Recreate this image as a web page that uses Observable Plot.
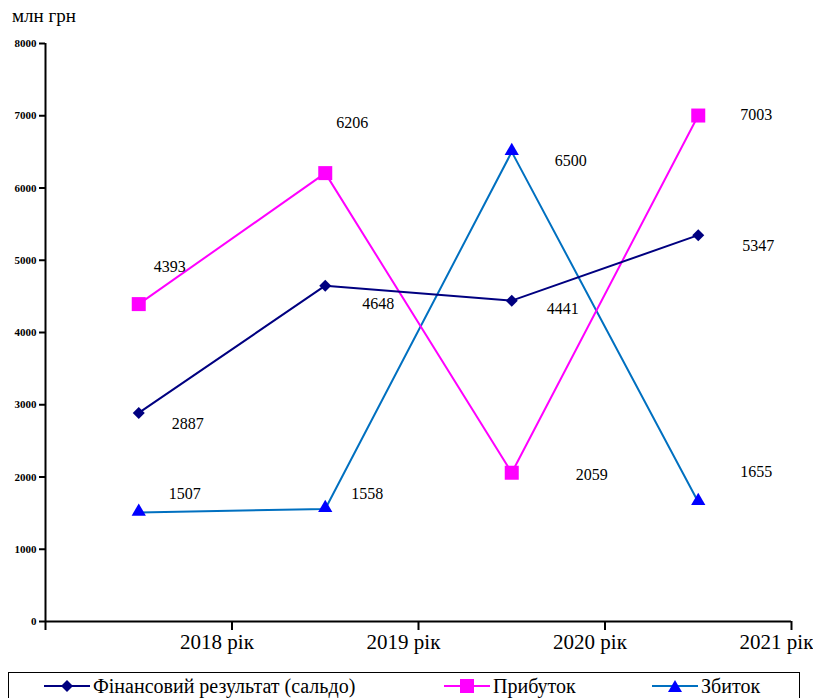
<!DOCTYPE html>
<html>
<head>
<meta charset="utf-8">
<script src="https://cdn.jsdelivr.net/npm/d3@7"></script>
<script src="https://cdn.jsdelivr.net/npm/@observablehq/plot@0.6"></script>
<style>
@font-face { font-family: "RefSerif"; src: local("Liberation Serif"), local("LiberationSerif"), local("Tinos"); }
</style>
</head>
<body style="margin:0">
<div style="position:relative;width:813px;height:698px">
  <div id="title" style="position:absolute;left:12px;top:5px;font-size:19px;color:#000;font-family:'Liberation Serif'">млн грн</div>
  <div id="c"></div>
  <div id="legend" style="position:absolute;left:8px;top:672px;width:792px;height:26px;border:1px solid #000;border-bottom:none;box-sizing:border-box;font-size:20px;font-family:'Liberation Serif'"></div>
</div>
<script>
// ---- data ----
const years = ["2018 рік", "2019 рік", "2020 рік", "2021 рік"];
const saldo = [2887, 4648, 4441, 5347];
const profit = [4393, 6206, 2059, 7003];
const loss = [1507, 1558, 6500, 1655];
const seriesNames = ["Фінансовий результат (сальдо)", "Прибуток", "Збиток"];
const yTicks = [0, 1000, 2000, 3000, 4000, 5000, 6000, 7000, 8000];

// ---- styling / layout (not data) ----
const FAM = "Liberation Serif";
const colors = {saldo: "#000080", profit: "#FF00FF", lossLine: "#0070C0", lossMarker: "#0000FF"};
const nudge = {
  saldo: [[49, 11], [53, 18], [51, 8], [60, 11]],
  profit: [[31, -37], [27, -50], [80, 2], [58, -1]],
  loss: [[46, -19], [42, -15], [59, 9], [58, -30]]
};

const mk = (vals) => vals.map((v, i) => ({i: i + 0.5, year: years[i], value: v}));
const dSaldo = mk(saldo), dProfit = mk(profit), dLoss = mk(loss);

function labels(data, offs) {
  return data.map((d, k) => Plot.text([d], {
    x: "i", y: "value", text: (d) => String(d.value),
    dx: offs[k][0], dy: offs[k][1], fontSize: 16, fill: "#000", fontFamily: FAM
  }));
}

const chart = Plot.plot({
  width: 813,
  height: 668,
  marginTop: 43,
  marginBottom: 47,
  marginLeft: 45,
  marginRight: 22,
  x: {type: "linear", domain: [0, years.length], axis: null, label: null},
  y: {domain: [0, 8000], axis: null, label: null},
  marks: [
    Plot.axisX(d3.range(0, years.length + 1), {tickSize: 9, tickFormat: () => "", stroke: "#000", strokeWidth: 2, label: null}),
    Plot.axisX(d3.range(1, years.length + 1), {
      tickSize: 0, tickPadding: 13, tickFormat: (d) => years[d - 1],
      fontSize: 21, dx: -15, fill: "#000", label: null, fontFamily: FAM
    }),
    Plot.axisY(yTicks, {
      tickSize: 6, tickPadding: 3, fontSize: 11, fontWeight: "bold", fontFamily: FAM,
      tickFormat: (d) => String(d), stroke: "#000", strokeWidth: 2, fill: "#000", label: null
    }),
    Plot.ruleY([0], {stroke: "#000", strokeWidth: 2}),
    Plot.ruleX([0], {stroke: "#000", strokeWidth: 2, y1: 0, y2: 8000}),
    Plot.line(dLoss, {x: "i", y: "value", stroke: colors.lossLine, strokeWidth: 2}),
    Plot.line(dProfit, {x: "i", y: "value", stroke: colors.profit, strokeWidth: 2}),
    Plot.line(dSaldo, {x: "i", y: "value", stroke: colors.saldo, strokeWidth: 2}),
    Plot.dot(dLoss, {x: "i", y: "value", symbol: "triangle", r: 5.3, fill: colors.lossMarker, stroke: "none", dy: -1}),
    Plot.dot(dProfit, {x: "i", y: "value", symbol: "square", r: 7.9, fill: colors.profit, stroke: "none"}),
    Plot.dot(dSaldo, {x: "i", y: "value", symbol: "diamond2", r: 5.4, fill: colors.saldo, stroke: "none"}),
    ...labels(dSaldo, nudge.saldo),
    ...labels(dProfit, nudge.profit),
    ...labels(dLoss, nudge.loss)
  ]
});
document.getElementById("c").appendChild(chart);

// ---- legend ----
const legendItems = [
  {name: seriesNames[0], line: colors.saldo, marker: colors.saldo, shape: "diamond", left: 34},
  {name: seriesNames[1], line: colors.profit, marker: colors.profit, shape: "square", left: 434},
  {name: seriesNames[2], line: colors.lossLine, marker: colors.lossMarker, shape: "triangle", left: 642}
];
const legend = document.getElementById("legend");
for (const it of legendItems) {
  const div = document.createElement("div");
  div.style.cssText = "position:absolute;top:-1px;display:flex;align-items:center;white-space:nowrap;font-family:'Liberation Serif'";
  div.style.left = it.left + "px";
  let m;
  if (it.shape === "diamond") m = `<path d="M23,1 L29,7 L23,13 L17,7 Z" fill="${it.marker}"/>`;
  else if (it.shape === "square") m = `<rect x="16" y="0" width="14" height="14" fill="${it.marker}"/>`;
  else m = `<path d="M23,1 L30,13 L16,13 Z" fill="${it.marker}"/>`;
  div.innerHTML = `<svg style="display:block" width="48" height="28" viewBox="0 -7 46 28"><line x1="0" x2="46" y1="7" y2="7" stroke="${it.line}" stroke-width="2"/>${m}</svg><span style="margin-left:2px">${it.name}</span>`;
  legend.appendChild(div);
}
</script>
</body>
</html>
